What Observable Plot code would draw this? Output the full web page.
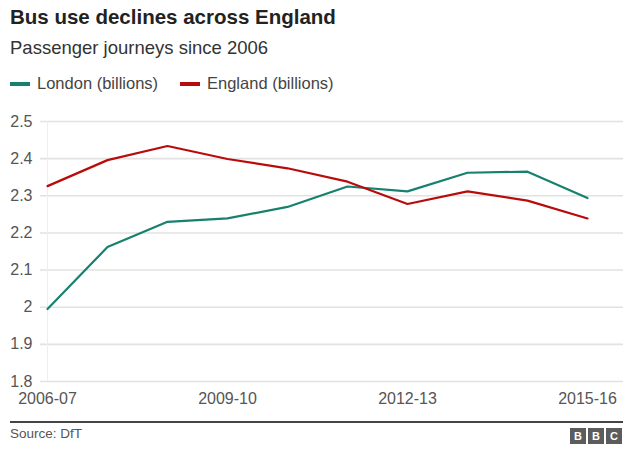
<!DOCTYPE html>
<html>
<head>
<meta charset="utf-8">
<script src="https://cdn.jsdelivr.net/npm/d3@7"></script>
<script src="https://cdn.jsdelivr.net/npm/@observablehq/plot@0.6"></script>
<style>
  html, body { margin: 0; padding: 0; background: #fff; }
  body { width: 640px; height: 458px; position: relative; overflow: hidden;
         font-family: "Liberation Sans", Arial, Helvetica, sans-serif; }
  .abs { position: absolute; white-space: nowrap; line-height: normal; }
  #title { left: 10px; top: 4.5px; font-size: 20.5px; font-weight: bold; color: #222; }
  #subtitle { left: 10px; top: 37.3px; font-size: 18.5px; color: #333; }
  .leg { font-size: 16.5px; color: #444; top: 74px; }
  .sw { position: absolute; width: 20px; height: 4px; top: 82px; }
  #chart { position: absolute; left: 0; top: 100px; }
  #rule { position: absolute; left: 10px; top: 421px; width: 613px; height: 2px; background: #444; }
  #source { left: 10px; top: 425.8px; font-size: 13.5px; color: #555; }
  .bbc { position: absolute; top: 428px; width: 16px; height: 16px; background: #5c5c5c; color: #fff;
         font-size: 11px; font-weight: bold; text-align: center; line-height: 16px; }
</style>
</head>
<body>
<div id="title" class="abs"></div>
<div id="subtitle" class="abs"></div>
<div id="legend"></div>
<div id="chart"></div>
<div id="rule"></div>
<div id="source" class="abs"></div>
<div id="logo"></div>
<script>
const titleText = "Bus use declines across England";
const subtitleText = "Passenger journeys since 2006";
const sourceText = "Source: DfT";

const years = ["2006-07","2007-08","2008-09","2009-10","2010-11","2011-12","2012-13","2013-14","2014-15","2015-16"];
const london = [1.995, 2.162, 2.230, 2.239, 2.270, 2.325, 2.312, 2.362, 2.365, 2.294];
const england = [2.326, 2.396, 2.434, 2.399, 2.374, 2.338, 2.278, 2.312, 2.287, 2.239];
const seriesNames = ["London (billions)", "England (billions)"];
const seriesColors = ["#17806f", "#b80c0c"];
const xTickLabels = ["2006-07","2009-10","2012-13","2015-16"];
const yTicks = [1.8, 1.9, 2.0, 2.1, 2.2, 2.3, 2.4, 2.5];

document.getElementById("title").textContent = titleText;
document.getElementById("subtitle").textContent = subtitleText;
document.getElementById("source").textContent = sourceText;

// legend
const legend = document.getElementById("legend");
const legX = [10, 180];
seriesNames.forEach((name, i) => {
  const sw = document.createElement("div");
  sw.className = "sw";
  sw.style.left = legX[i] + "px";
  sw.style.background = seriesColors[i];
  legend.appendChild(sw);
  const t = document.createElement("div");
  t.className = "abs leg";
  t.style.left = (legX[i] + 27) + "px";
  t.textContent = name;
  legend.appendChild(t);
});

// BBC logo
const logo = document.getElementById("logo");
["B","B","C"].forEach((ch, i) => {
  const b = document.createElement("div");
  b.className = "bbc";
  b.style.left = (570 + i * 18) + "px";
  b.textContent = ch;
  logo.appendChild(b);
});

const data = [
  ...years.map((y, i) => ({year: y, value: london[i], series: seriesNames[0]})),
  ...years.map((y, i) => ({year: y, value: england[i], series: seriesNames[1]}))
];

const chart = Plot.plot({
  width: 640,
  height: 310,
  marginLeft: 40,
  marginRight: 17,
  marginTop: 21,
  marginBottom: 29,
  style: {fontFamily: "'Liberation Sans', Arial, Helvetica, sans-serif", background: "transparent"},
  x: {type: "point", domain: years, padding: 0, insetLeft: 3, insetRight: 32},
  y: {domain: [1.8, 2.5]},
  color: {domain: seriesNames, range: seriesColors},
  marks: [
    Plot.ruleY(yTicks, {stroke: "#e2e2e2", strokeWidth: 1.6}),
    Plot.ruleX([years[0]], {stroke: "#eeeeee", strokeWidth: 1}),
    Plot.lineY(data, {x: "year", y: "value", stroke: "series", strokeWidth: 2.2}),
    Plot.axisY(yTicks, {tickSize: 0, tickPadding: 8, fontSize: 16, fill: "#555",
      tickFormat: d => String(+d.toFixed(1)), label: null}),
    Plot.axisX(xTickLabels, {tickSize: 0, tickPadding: 11, fontSize: 16, fill: "#555", label: null})
  ]
});
document.getElementById("chart").appendChild(chart);
</script>
</body>
</html>
